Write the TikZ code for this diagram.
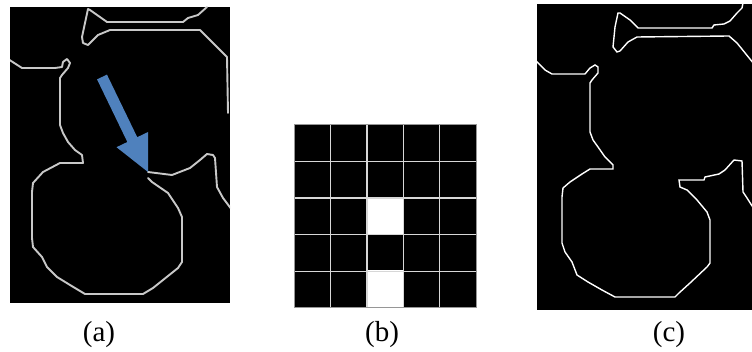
\documentclass[tikz,border=0pt]{standalone}
\usepackage{fontspec}
\setmainfont{Liberation Serif}
\definecolor{edgegray}{RGB}{200,200,200}
\definecolor{arrowblue}{RGB}{79,129,189}
\definecolor{gridline}{RGB}{215,215,215}
\definecolor{gridborder}{RGB}{150,150,150}
\tikzset{
  panel/.style={fill=black, draw=none},
  edgeA/.style={draw=edgegray, line width=1.9pt, line join=round, line cap=round},
  edgeC/.style={draw=white, line width=1.4pt, line join=miter},
  lbl/.style={font=\fontsize{29}{32}\selectfont, inner sep=0pt},
}
\begin{document}
\begin{tikzpicture}[x=1pt,y=-1pt]
\useasboundingbox (0,0) rectangle (752,352);
\fill[white] (0,0) rectangle (752,352);

% ---------- panel (a) ----------
\fill[panel] (10,7) rectangle (230,303);
\begin{scope}
\clip (10,7) rectangle (230,303);
\draw[edgeA] (207,7) -- (198,15) -- (188,18) -- (183,22) -- (107,22) -- (90,10) -- (88,9)
  -- (85,23) -- (82,37) -- (83,43) -- (88,45) -- (98,35) -- (110,30) -- (200,30) -- (227,57) -- (228,113);
\draw[edgeA] (8,59) -- (22,68) -- (55,68) -- (62,67) -- (63,62) -- (67,59) -- (70,63) -- (68,68)
  -- (62,75) -- (60,78) -- (60,125) -- (63,133) -- (68,142) -- (75,150) -- (82,155) -- (83,163)
  -- (60,163) -- (43,172) -- (33,183) -- (32,192) -- (32,238) -- (33,247) -- (42,257) -- (47,267)
  -- (57,277) -- (70,285) -- (85,294) -- (143,294) -- (153,288) -- (178,268) -- (182,262)
  -- (182,217) -- (178,208) -- (168,193) -- (152,182) -- (148,178);
\draw[edgeA] (148,172) -- (172,175) -- (190,168) -- (200,160) -- (207,154) -- (213,155) -- (215,158)
  -- (217,187) -- (223,198) -- (232,210);
\end{scope}
\fill[arrowblue] (97.05,79.4) -- (127.35,142.0) -- (116.5,147.2) -- (148,172) -- (148.05,132.0)
  -- (137.25,137.2) -- (106.95,74.6) -- cycle;

% ---------- panel (b) ----------
\fill[panel] (294,125) rectangle (476,308);
\fill[white] (366.8,197.2) rectangle (403.2,233.8);
\fill[white] (366.8,270.4) rectangle (403.2,308);
\foreach \i in {1,2,3,4} {
  \draw[gridline, line width=1.4pt] ({294+36.4*\i},125) -- ({294+36.4*\i},308);
  \draw[gridline, line width=1.4pt] (294,{125+36.6*\i}) -- (476,{125+36.6*\i});
}
\draw[gridborder, line width=1pt] (294,125) rectangle (476,308);

% ---------- panel (c) ----------
\fill[panel] (537,4) rectangle (752,310);
\begin{scope}
\clip (537,4) rectangle (752,310);
\draw[edgeC] (743,3) -- (742,8) -- (737,13) -- (730,21) -- (724,24) -- (714,25) -- (712,28) -- (638,28)
  -- (630,20) -- (620,13) -- (618,13) -- (615,27) -- (613,47) -- (617,52) -- (620,51) -- (628,42)
  -- (637,37) -- (729,36) -- (737,43) -- (754,64);
\draw[edgeC] (535,60) -- (545,70) -- (552,74) -- (585,74) -- (590,68) -- (595,65) -- (598,67) -- (598,73)
  -- (592,80) -- (590,83) -- (590,132) -- (593,140) -- (598,147) -- (605,157) -- (610,162) -- (613,165)
  -- (613,169) -- (590,169) -- (582,174) -- (570,182) -- (563,188) -- (562,197) -- (562,243)
  -- (565,252) -- (572,262) -- (577,275) -- (588,282) -- (602,290) -- (615,297) -- (675,297)
  -- (679,293) -- (690,283) -- (707,267) -- (710,263) -- (710,220) -- (707,212) -- (697,200)
  -- (687,190) -- (680,187) -- (679,180) -- (704,180) -- (705,177) -- (719,174) -- (725,170)
  -- (734,160) -- (742,161) -- (743,192) -- (747,198) -- (754,209);
\end{scope}

% ---------- labels ----------
\node[lbl] (la) at (99,335) {(a)};
\node[lbl] (lb) at (382,335) {(b)};
\node[lbl] (lc) at (669,335) {(c)};
\end{tikzpicture}
\end{document}
